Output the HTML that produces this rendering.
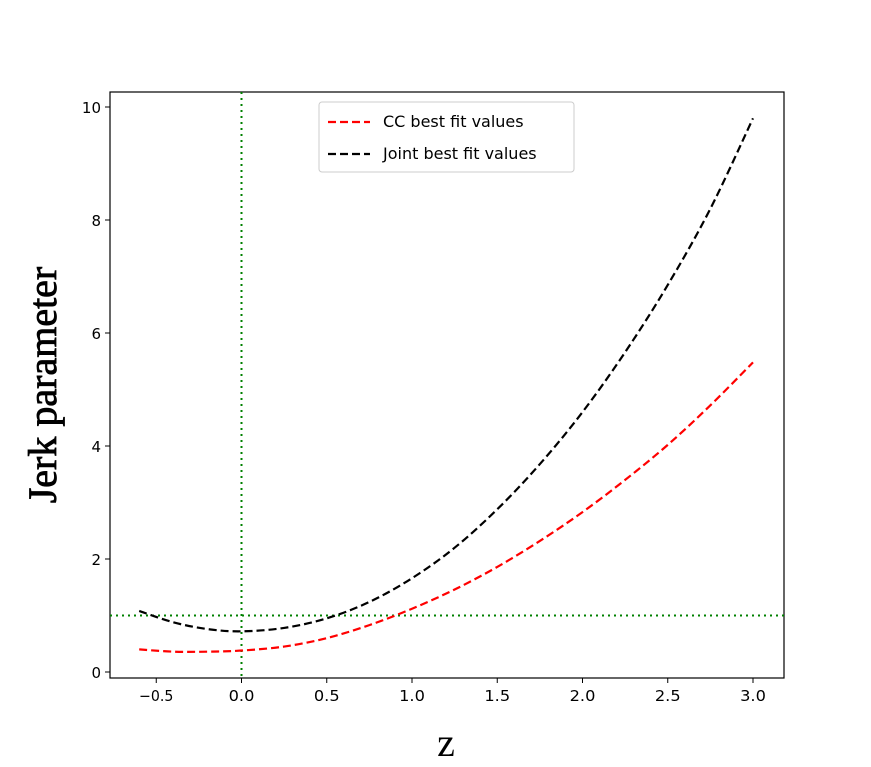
<!DOCTYPE html>
<html><head><meta charset="utf-8"><style>
body{margin:0;background:#fff}
svg text{font-family:"DejaVu Sans","Liberation Sans",sans-serif}
</style></head><body>
<svg width="871" height="762" viewBox="0 0 871 762" xmlns="http://www.w3.org/2000/svg">
<g id="plot"></g>
<g>
<rect x="319" y="102" width="255" height="70" rx="3" fill="#fff" stroke="#ccc"/>
<line x1="328" y1="122" x2="370" y2="122" stroke="red" stroke-width="2.2" stroke-dasharray="8,4"/>
<text x="383" y="127" font-size="16">CC best fit values</text>
<line x1="328" y1="154" x2="370" y2="154" stroke="#000" stroke-width="2.2" stroke-dasharray="8,4"/>
<text x="383" y="159" font-size="16">Joint best fit values</text>
</g>
<text x="446" y="756" text-anchor="middle" font-size="40" style="font-family:'Liberation Serif',serif">z</text>
<text transform="translate(56,385) rotate(-90)" text-anchor="middle" font-size="40" stroke="#000" stroke-width="0.8" style="font-family:'Liberation Serif',serif">Jerk parameter</text>
</svg>
<script>
const zValues=[-0.6,-0.4,-0.2,0,0.25,0.5,0.75,1,1.25,1.5,1.75,2,2.25,2.5,2.75,3];
const jointValues=[1.08,0.88,0.76,0.72,0.78,0.95,1.24,1.66,2.2,2.88,3.68,4.6,5.66,6.85,8.2,9.8];
const ccValues=[0.40,0.36,0.36,0.38,0.45,0.60,0.83,1.12,1.46,1.86,2.32,2.83,3.4,4.02,4.72,5.48];
const xTicks=[-0.5,0,0.5,1,1.5,2,2.5,3];
const xTickLabels=["\u22120.5","0.0","0.5","1.0","1.5","2.0","2.5","3.0"];
const yTicks=[0,2,4,6,8,10];
const yTickLabels=["0","2","4","6","8","10"];
const NS="http://www.w3.org/2000/svg";
const X=v=>241.5+v*170.5, Y=v=>672-v*56.5;
const g=document.getElementById('plot');
function mk(t,a){const e=document.createElementNS(NS,t);for(const k in a)e.setAttribute(k,a[k]);g.appendChild(e);return e;}
const frame=mk('rect',{x:110,y:92,width:674,height:586,fill:'none',stroke:'#000','stroke-width':1.2});


xTicks.forEach((t,i)=>{
 const l=mk('line',{x1:X(t),x2:X(t),y1:678,y2:683,stroke:'#000'});
 
 
 const tx=mk('text',{x:X(t),y:701,'text-anchor':'middle','font-size':15,'textLength':xTickLabels[i].length*8.6,'lengthAdjust':'spacingAndGlyphs'});tx.textContent=xTickLabels[i];
 
 
});
yTicks.forEach((t,i)=>{
 const l=mk('line',{x1:105,x2:110,y1:Y(t),y2:Y(t),stroke:'#000'});
 
 
 const tx=mk('text',{x:101,y:Y(t)+6,'text-anchor':'end','font-size':15});tx.textContent=yTickLabels[i];
 
 
});
const vl=mk('line',{x1:X(0),x2:X(0),y1:92,y2:678,stroke:'green','stroke-width':2,'stroke-dasharray':'2,4'});


const hl=mk('line',{x1:110,x2:784,y1:Y(1),y2:Y(1),stroke:'green','stroke-width':2,'stroke-dasharray':'2,4'});


function path(vals){
 const p=zValues.map((z,i)=>[X(z),Y(vals[i])]);
 let d='M'+p[0][0]+','+p[0][1];
 for(let i=0;i<p.length-1;i++){
  const p0=p[Math.max(0,i-1)],p1=p[i],p2=p[i+1],p3=p[Math.min(p.length-1,i+2)];
  d+=' C'+(p1[0]+(p2[0]-p0[0])/6)+','+(p1[1]+(p2[1]-p0[1])/6)+' '+(p2[0]-(p3[0]-p1[0])/6)+','+(p2[1]-(p3[1]-p1[1])/6)+' '+p2[0]+','+p2[1];
 }
 return d;
}
const cc=mk('path',{d:path(ccValues),fill:'none',stroke:'red','stroke-width':2.2,'stroke-dasharray':'8,4'});


const jt=mk('path',{d:path(jointValues),fill:'none',stroke:'#000','stroke-width':2.2,'stroke-dasharray':'8,4'});


</script>
</body></html>
